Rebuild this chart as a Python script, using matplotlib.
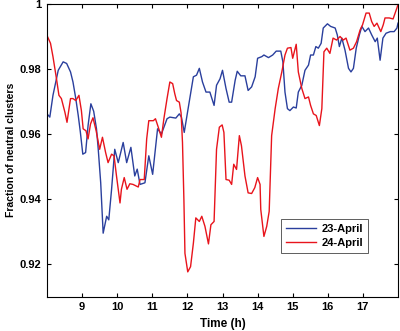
import matplotlib
matplotlib.use("Agg")
import matplotlib.pyplot as plt

# Fraction of neutral clusters over the day, two dates
hours_apr23 = [8.00, 8.08, 8.17, 8.32, 8.46, 8.56, 8.67, 8.74, 8.82, 8.89, 8.95, 9.02, 9.10,
               9.17, 9.25, 9.33, 9.41, 9.46, 9.53, 9.60, 9.70, 9.76, 9.84, 9.93, 10.03, 10.17,
               10.27, 10.39, 10.50, 10.57, 10.65, 10.79, 10.90, 11.01, 11.15, 11.26, 11.42,
               11.50, 11.67, 11.77, 11.83, 11.91, 12.02, 12.17, 12.26, 12.34, 12.43, 12.53,
               12.64, 12.76, 12.83, 12.93, 13.00, 13.10, 13.19, 13.26, 13.36, 13.42, 13.52,
               13.64, 13.73, 13.83, 13.93, 14.00, 14.12, 14.18, 14.31, 14.43, 14.53, 14.66,
               14.72, 14.78, 14.85, 14.92, 15.02, 15.10, 15.16, 15.26, 15.35, 15.45, 15.51,
               15.59, 15.66, 15.73, 15.81, 15.87, 15.99, 16.08, 16.21, 16.27, 16.33, 16.40,
               16.49, 16.59, 16.66, 16.73, 16.81, 16.90, 16.97, 17.06, 17.16, 17.25, 17.35,
               17.41, 17.49, 17.57, 17.66, 17.78, 17.89, 17.97, 18.00]
frac_apr23 = [0.9662, 0.9652, 0.9719, 0.9796, 0.9822, 0.9817, 0.9791, 0.9760, 0.9709, 0.9657,
              0.9606, 0.9538, 0.9543, 0.9626, 0.9693, 0.9670, 0.9616, 0.9553, 0.9450, 0.9295,
              0.9347, 0.9336, 0.9430, 0.9553, 0.9512, 0.9574, 0.9512, 0.9559, 0.9471, 0.9492,
              0.9445, 0.9450, 0.9533, 0.9476, 0.9616, 0.9600, 0.9647, 0.9652, 0.9649, 0.9662,
              0.9652, 0.9605, 0.9678, 0.9776, 0.9781, 0.9802, 0.9760, 0.9729, 0.9729, 0.9688,
              0.9750, 0.9770, 0.9796, 0.9740, 0.9698, 0.9698, 0.9765, 0.9793, 0.9779, 0.9779,
              0.9734, 0.9745, 0.9776, 0.9833, 0.9838, 0.9843, 0.9835, 0.9843, 0.9855, 0.9855,
              0.9822, 0.9729, 0.9678, 0.9672, 0.9683, 0.9680, 0.9729, 0.9750, 0.9796, 0.9812,
              0.9843, 0.9843, 0.9869, 0.9864, 0.9879, 0.9926, 0.9939, 0.9931, 0.9926, 0.9905,
              0.9869, 0.9895, 0.9858, 0.9802, 0.9791, 0.9802, 0.9864, 0.9905, 0.9931, 0.9915,
              0.9926, 0.9905, 0.9884, 0.9895, 0.9827, 0.9895, 0.9910, 0.9915, 0.9915, 0.9926,
              0.9941]

hours_apr24 = [8.00, 8.10, 8.17, 8.27, 8.34, 8.41, 8.51, 8.57, 8.67, 8.74, 8.82, 8.91, 8.98,
               9.03, 9.11, 9.17, 9.24, 9.31, 9.40, 9.50, 9.58, 9.67, 9.74, 9.84, 9.91, 9.98,
               10.08, 10.12, 10.20, 10.28, 10.36, 10.45, 10.60, 10.65, 10.77, 10.84, 10.90,
               11.03, 11.09, 11.17, 11.26, 11.33, 11.42, 11.50, 11.58, 11.64, 11.69, 11.77,
               11.82, 11.86, 11.90, 11.93, 12.01, 12.09, 12.17, 12.24, 12.34, 12.41, 12.50,
               12.60, 12.67, 12.76, 12.83, 12.91, 12.99, 13.04, 13.10, 13.19, 13.26, 13.32,
               13.40, 13.48, 13.54, 13.64, 13.73, 13.83, 13.92, 14.00, 14.07, 14.09, 14.18,
               14.26, 14.33, 14.40, 14.50, 14.59, 14.69, 14.78, 14.85, 14.95, 15.00, 15.10,
               15.16, 15.26, 15.35, 15.45, 15.51, 15.59, 15.67, 15.76, 15.83, 15.89, 15.97,
               16.06, 16.15, 16.25, 16.35, 16.44, 16.52, 16.63, 16.73, 16.82, 16.92, 16.99,
               17.09, 17.18, 17.25, 17.32, 17.40, 17.51, 17.58, 17.63, 17.75, 17.86, 17.97,
               18.00]
frac_apr24 = [0.9903, 0.9879, 0.9838, 0.9770, 0.9719, 0.9709, 0.9667, 0.9636, 0.9709, 0.9709,
              0.9703, 0.9719, 0.9672, 0.9616, 0.9610, 0.9585, 0.9631, 0.9650, 0.9610, 0.9553,
              0.9590, 0.9543, 0.9512, 0.9538, 0.9533, 0.9471, 0.9388, 0.9430, 0.9466, 0.9430,
              0.9447, 0.9445, 0.9437, 0.9460, 0.9460, 0.9585, 0.9641, 0.9641, 0.9647, 0.9621,
              0.9590, 0.9647, 0.9709, 0.9760, 0.9755, 0.9724, 0.9703, 0.9698, 0.9665, 0.9574,
              0.9399, 0.9233, 0.9176, 0.9192, 0.9264, 0.9342, 0.9331, 0.9347, 0.9316, 0.9262,
              0.9321, 0.9331, 0.9553, 0.9621, 0.9628, 0.9605, 0.9460, 0.9458, 0.9445, 0.9507,
              0.9491, 0.9595, 0.9564, 0.9471, 0.9419, 0.9417, 0.9435, 0.9466, 0.9445, 0.9368,
              0.9285, 0.9316, 0.9362, 0.9595, 0.9678, 0.9740, 0.9791, 0.9843, 0.9864, 0.9866,
              0.9833, 0.9876, 0.9791, 0.9740, 0.9709, 0.9714, 0.9688, 0.9662, 0.9657, 0.9626,
              0.9678, 0.9853, 0.9864, 0.9848, 0.9895, 0.9889, 0.9900, 0.9889, 0.9895, 0.9858,
              0.9864, 0.9884, 0.9920, 0.9936, 0.9972, 0.9972, 0.9946, 0.9931, 0.9941, 0.9915,
              0.9936, 0.9957, 0.9957, 0.9954, 0.9988, 0.9998]

x_ticks = [9, 10, 11, 12, 13, 14, 15, 16, 17]
y_ticks = [0.92, 0.94, 0.96, 0.98, 1.0]
y_tick_labels = ["0.92", "0.94", "0.96", "0.98", "1"]

plt.rcParams["font.family"] = ["Liberation Sans", "DejaVu Sans"]
plt.rcParams["font.weight"] = "bold"

fig = plt.figure(figsize=(4.0, 3.31), dpi=100)
ax = fig.add_axes([0.1175, 0.104, 0.8775, 0.884])

ax.plot(hours_apr23, frac_apr23, color="#2a3f9d", lw=1.0, label="23-April")
ax.plot(hours_apr24, frac_apr24, color="#e8141c", lw=1.0, label="24-April")

ax.set_xlim(8, 18)
ax.set_ylim(0.91, 1.0)
ax.set_xticks(x_ticks)
ax.set_xticklabels([str(t) for t in x_ticks])
ax.set_yticks(y_ticks)
ax.set_yticklabels(y_tick_labels)
ax.tick_params(direction="in", top=True, right=True, length=3, width=0.8,
               labelsize=8, pad=4)
for s in ax.spines.values():
    s.set_linewidth(0.8)

ax.set_xlabel("Time (h)", fontsize=8.5, fontweight="bold", labelpad=4)
ax.set_ylabel("Fraction of neutral clusters", fontsize=7.5, fontweight="bold", labelpad=3)

leg = ax.legend(loc="lower right", bbox_to_anchor=(0.93, 0.131), fontsize=8,
                frameon=True, fancybox=False, edgecolor="#444444", framealpha=1,
                handlelength=2.7, borderpad=0.45, labelspacing=0.35, handletextpad=0.5)
leg.get_frame().set_linewidth(0.6)

fig.savefig("out.png", dpi=100)
